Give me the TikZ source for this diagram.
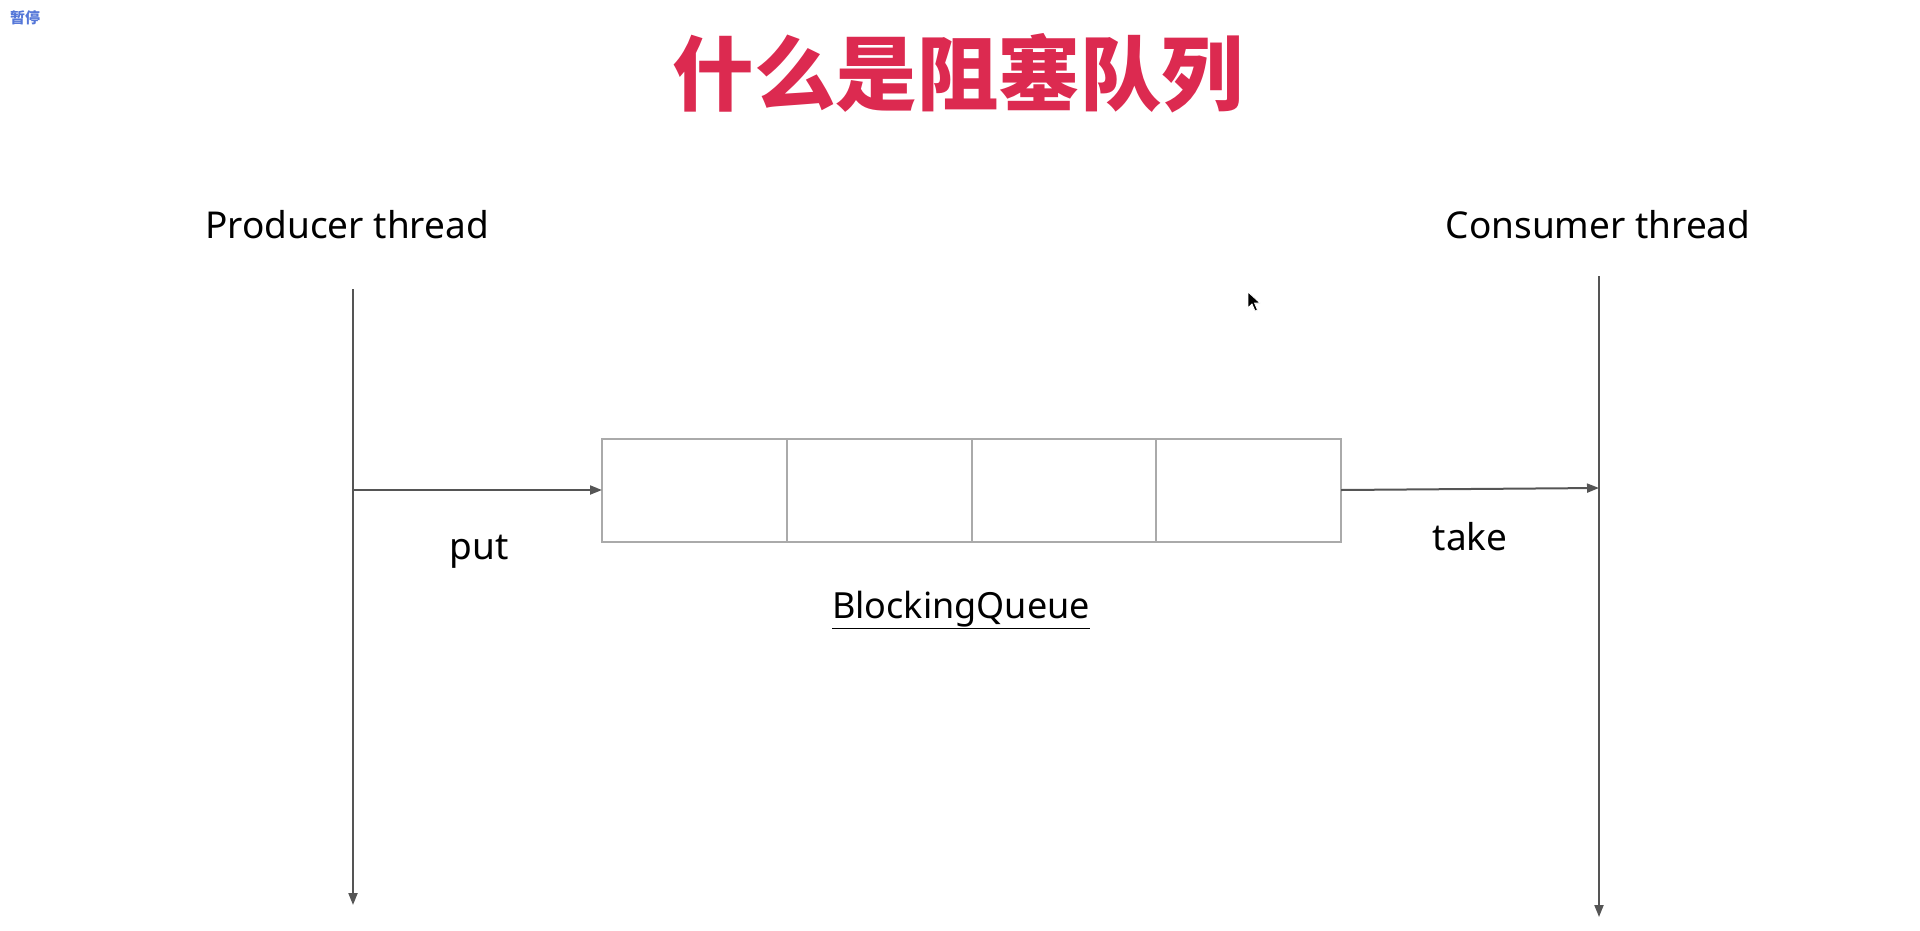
\documentclass[tikz,border=0pt]{standalone}
\usepackage{fontspec}
\setmainfont{Noto Sans}
\newfontfamily\cjk{Noto Sans CJK SC}
\usetikzlibrary{arrows.meta}
\definecolor{titlered}{HTML}{DC2A50}
\definecolor{lineclr}{HTML}{555555}
\definecolor{boxclr}{HTML}{AAAAAA}
\definecolor{pauseblue}{HTML}{5577D8}
\tikzset{
  thread/.style={draw=lineclr, line width=2pt, -{Triangle[length=12pt,width=9pt]}},
  flow/.style={draw=lineclr, line width=2pt, -{Triangle[length=12pt,width=9pt]}},
  cell/.style={draw=boxclr, line width=2pt, minimum width=184.75pt, minimum height=103pt, inner sep=0pt, outer sep=0pt},
  lbl/.style={font=\fontsize{37}{40}\selectfont, text=black, anchor=base, inner sep=0pt},
  ttl/.style={font=\cjk\bfseries\fontsize{81.5}{84}\selectfont, text=titlered, anchor=base, inner sep=0pt},
}
\begin{document}
\begin{tikzpicture}[x=1pt,y=-1pt]
\useasboundingbox (0,0) rectangle (1920,930);
% pause label
\node[font=\cjk\bfseries\fontsize{15}{16}\selectfont, text=pauseblue, anchor=north west, inner sep=0pt] (pause) at (10,10) {暂停};
% title
\node[ttl] (title) at (958,104) {什么是阻塞队列};
% thread labels
\node[lbl] (prod) at (347,238) {Producer thread};
\node[lbl] (cons) at (1598,238) {Consumer thread};
% thread lines
\coordinate (ptop) at (353,289);
\coordinate (pmid) at (353,490);
\coordinate (pbot) at (353,905);
\coordinate (ctop) at (1599,276);
\coordinate (cmid) at (1599,488);
\coordinate (cbot) at (1599,917);
\draw[thread] (ptop) -- (pbot);
\draw[thread] (ctop) -- (cbot);
% queue
\node[cell] (q1) at (694.375,490) {};
\node[cell] (q2) at (879.125,490) {};
\node[cell] (q3) at (1063.875,490) {};
\node[cell] (q4) at (1248.625,490) {};
\draw[flow] (pmid) -- (q1.west);
\draw[flow] (q4.east) -- (cmid);
\node[lbl] (put) at (479,559) {put};
\node[lbl] (take) at (1470,550) {take};
\node[lbl, font=\fontsize{36}{38}\selectfont] (bq) at (961,618) {\underline{BlockingQueue}};
% mouse cursor
\filldraw[fill=black, draw=white, line width=0.8pt] (1248,292) -- (1248,308) -- (1252,304) -- (1255,311) -- (1257.5,310) -- (1254.5,303) -- (1260,303) -- cycle;
\end{tikzpicture}
\end{document}
